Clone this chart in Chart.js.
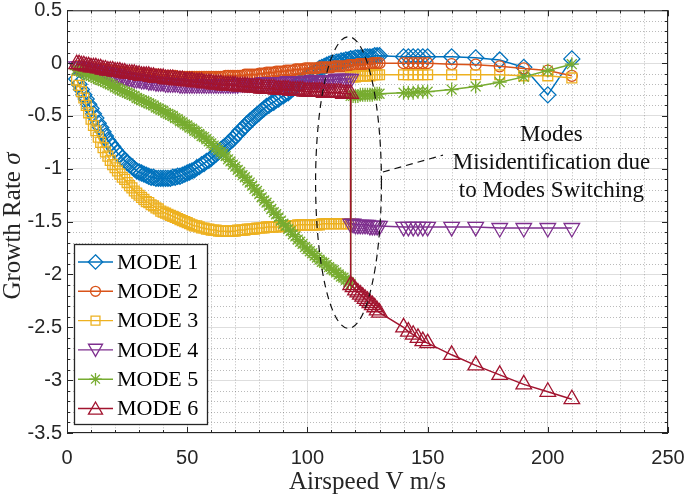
<!DOCTYPE html>
<html><head><meta charset="utf-8">
<style>html,body{margin:0;padding:0;background:#fff;} canvas{display:block;}</style>
<script src="https://cdn.jsdelivr.net/npm/chart.js@4.4.1/dist/chart.umd.min.js"></script>
</head><body>
<canvas id="c" width="685" height="498" style="width:685px;height:498px"></canvas>
<script>
// ---------------- data ----------------
const speed = [4,5,6,7,8,9,
  10,11,12,13,14,15,16,17,18,19,
  20,21,22,23,24,25,26,27,28,29,
  30,31,32,33,34,35,36,37,38,39,
  40,41,42,43,44,45,46,47,48,49,
  50,51,52,53,54,55,56,57,58,59,
  60,61,62,63,64,65,66,67,68,69,
  70,71,72,73,74,75,76,77,78,79,
  80,81,82,83,84,85,86,87,88,89,
  90,91,92,93,94,95,96,97,98,99,
  100,101,102,103,104,105,106,107,108,109,
  110,111,112,113,114,115,116,117,118,
  118,119,120,121,122,123,124,125,126,127,128,129,130,
  140,142,144,146,148,150,160,170,180,190,200,210];

const mode1 = [-0.15,-0.20,-0.25,-0.30,-0.34,-0.39,
  -0.43,-0.48,-0.52,-0.57,-0.61,-0.65,-0.69,-0.73,-0.76,-0.79,
  -0.82,-0.85,-0.87,-0.90,-0.92,-0.94,-0.96,-0.98,-1.00,-1.02,
  -1.03,-1.04,-1.05,-1.06,-1.07,-1.08,-1.08,-1.09,-1.09,-1.09,
  -1.09,-1.09,-1.09,-1.09,-1.08,-1.08,-1.07,-1.07,-1.06,-1.05,
  -1.04,-1.03,-1.02,-1.01,-0.99,-0.98,-0.96,-0.95,-0.93,-0.92,
  -0.90,-0.88,-0.86,-0.84,-0.82,-0.80,-0.78,-0.76,-0.74,-0.72,
  -0.69,-0.67,-0.64,-0.62,-0.60,-0.57,-0.55,-0.53,-0.51,-0.49,
  -0.47,-0.45,-0.43,-0.41,-0.40,-0.38,-0.37,-0.35,-0.34,-0.32,
  -0.31,-0.29,-0.28,-0.26,-0.24,-0.22,-0.20,-0.18,-0.16,-0.14,
  -0.13,-0.11,-0.10,-0.08,-0.07,-0.05,-0.04,-0.03,-0.02,-0.01,
  0.00,0.00,0.01,0.01,0.02,0.02,0.03,0.03,0.04,
  0.04,0.04,0.05,0.05,0.05,0.05,0.06,0.06,0.06,0.06,0.07,0.07,0.07,
  0.06,0.06,0.06,0.06,0.06,0.06,0.06,0.05,0.03,-0.04,-0.30,0.04];

const mode2 = [-0.03,-0.03,-0.04,-0.04,-0.04,-0.05,
  -0.05,-0.05,-0.05,-0.06,-0.06,-0.06,-0.06,-0.07,-0.07,-0.07,
  -0.07,-0.08,-0.08,-0.08,-0.08,-0.09,-0.09,-0.09,-0.09,-0.10,
  -0.10,-0.10,-0.10,-0.11,-0.11,-0.11,-0.11,-0.11,-0.11,-0.12,
  -0.12,-0.12,-0.12,-0.12,-0.12,-0.12,-0.13,-0.13,-0.13,-0.13,
  -0.13,-0.13,-0.13,-0.13,-0.13,-0.13,-0.13,-0.13,-0.13,-0.13,
  -0.13,-0.13,-0.13,-0.13,-0.13,-0.13,-0.12,-0.12,-0.12,-0.12,
  -0.12,-0.12,-0.12,-0.12,-0.11,-0.11,-0.11,-0.11,-0.11,-0.11,
  -0.10,-0.10,-0.10,-0.09,-0.09,-0.09,-0.09,-0.08,-0.08,-0.08,
  -0.08,-0.07,-0.07,-0.07,-0.07,-0.06,-0.06,-0.06,-0.06,-0.05,
  -0.05,-0.05,-0.05,-0.05,-0.05,-0.04,-0.04,-0.04,-0.04,-0.04,
  -0.04,-0.03,-0.03,-0.03,-0.03,-0.03,-0.03,-0.02,-0.02,
  -0.02,-0.02,-0.02,-0.01,-0.01,-0.01,-0.01,-0.01,-0.01,0.00,0.00,0.00,0.00,
  0.00,0.00,0.00,0.00,0.00,0.00,-0.01,-0.015,-0.03,-0.05,-0.07,-0.12];

const mode3 = [-0.16,-0.21,-0.27,-0.33,-0.40,-0.47,
  -0.53,-0.59,-0.64,-0.70,-0.75,-0.80,-0.84,-0.88,-0.92,-0.96,
  -0.99,-1.02,-1.05,-1.08,-1.10,-1.13,-1.16,-1.18,-1.21,-1.23,
  -1.25,-1.27,-1.29,-1.31,-1.32,-1.34,-1.35,-1.37,-1.38,-1.40,
  -1.41,-1.42,-1.43,-1.44,-1.45,-1.46,-1.47,-1.48,-1.49,-1.50,
  -1.51,-1.52,-1.53,-1.54,-1.54,-1.55,-1.56,-1.56,-1.57,-1.57,
  -1.58,-1.58,-1.58,-1.59,-1.59,-1.59,-1.59,-1.59,-1.59,-1.59,
  -1.59,-1.58,-1.58,-1.58,-1.58,-1.57,-1.57,-1.57,-1.57,-1.56,
  -1.56,-1.56,-1.56,-1.55,-1.55,-1.55,-1.55,-1.55,-1.55,-1.54,
  -1.54,-1.54,-1.54,-1.54,-1.54,-1.54,-1.53,-1.53,-1.53,-1.53,
  -1.53,-1.53,-1.53,-1.53,-1.53,-1.53,-1.52,-1.52,-1.52,-1.52,
  -1.52,-1.52,-1.52,-1.52,-1.52,-1.52,-1.52,-1.52,-1.52,
  -0.13,-0.13,-0.13,-0.12,-0.12,-0.12,-0.12,-0.12,-0.12,-0.11,-0.11,-0.11,-0.11,
  -0.11,-0.11,-0.11,-0.11,-0.11,-0.11,-0.11,-0.11,-0.11,-0.12,-0.12,-0.14];

const mode4 = [-0.03,-0.03,-0.04,-0.04,-0.05,-0.05,
  -0.06,-0.06,-0.07,-0.07,-0.08,-0.08,-0.09,-0.09,-0.10,-0.10,
  -0.11,-0.11,-0.12,-0.12,-0.13,-0.13,-0.14,-0.14,-0.15,-0.15,
  -0.15,-0.16,-0.16,-0.16,-0.17,-0.17,-0.17,-0.18,-0.18,-0.18,
  -0.18,-0.19,-0.19,-0.19,-0.19,-0.19,-0.19,-0.20,-0.20,-0.20,
  -0.20,-0.20,-0.20,-0.20,-0.20,-0.20,-0.20,-0.20,-0.20,-0.20,
  -0.20,-0.20,-0.20,-0.20,-0.20,-0.20,-0.20,-0.20,-0.20,-0.20,
  -0.20,-0.20,-0.19,-0.19,-0.19,-0.19,-0.19,-0.19,-0.19,-0.19,
  -0.19,-0.19,-0.18,-0.18,-0.18,-0.18,-0.18,-0.18,-0.18,-0.18,
  -0.18,-0.18,-0.17,-0.17,-0.17,-0.17,-0.17,-0.17,-0.17,-0.17,
  -0.17,-0.17,-0.16,-0.16,-0.16,-0.16,-0.16,-0.16,-0.16,-0.16,
  -0.16,-0.16,-0.15,-0.15,-0.15,-0.15,-0.15,-0.15,-0.15,
  -1.52,-1.52,-1.53,-1.53,-1.53,-1.53,-1.53,-1.53,-1.54,-1.54,-1.54,-1.54,-1.54,
  -1.55,-1.55,-1.55,-1.55,-1.55,-1.55,-1.55,-1.55,-1.56,-1.56,-1.56,-1.56];

const mode5 = [-0.06,-0.07,-0.08,-0.09,-0.10,-0.11,
  -0.12,-0.13,-0.14,-0.15,-0.16,-0.17,-0.18,-0.19,-0.20,-0.21,
  -0.23,-0.24,-0.25,-0.26,-0.27,-0.28,-0.29,-0.30,-0.31,-0.33,
  -0.34,-0.35,-0.36,-0.37,-0.38,-0.39,-0.40,-0.42,-0.43,-0.44,
  -0.45,-0.47,-0.48,-0.49,-0.50,-0.52,-0.53,-0.55,-0.56,-0.58,
  -0.59,-0.61,-0.62,-0.64,-0.65,-0.67,-0.69,-0.70,-0.72,-0.74,
  -0.76,-0.78,-0.80,-0.82,-0.84,-0.86,-0.88,-0.91,-0.93,-0.96,
  -0.98,-1.01,-1.03,-1.06,-1.08,-1.11,-1.13,-1.16,-1.19,-1.21,
  -1.24,-1.27,-1.30,-1.32,-1.35,-1.38,-1.41,-1.43,-1.46,-1.49,
  -1.52,-1.54,-1.57,-1.59,-1.62,-1.64,-1.67,-1.69,-1.71,-1.74,
  -1.76,-1.78,-1.80,-1.82,-1.84,-1.86,-1.88,-1.89,-1.91,-1.93,
  -1.95,-1.96,-1.98,-2.00,-2.02,-2.03,-2.05,-2.07,-2.09,
  -0.31,-0.31,-0.31,-0.31,-0.30,-0.30,-0.30,-0.30,-0.30,-0.30,-0.29,-0.29,-0.29,
  -0.28,-0.28,-0.28,-0.27,-0.27,-0.27,-0.25,-0.22,-0.18,-0.13,-0.07,-0.01];

const mode6 = [-0.01,-0.01,-0.02,-0.02,-0.03,-0.03,
  -0.04,-0.04,-0.04,-0.05,-0.05,-0.06,-0.06,-0.07,-0.07,-0.07,
  -0.08,-0.08,-0.08,-0.09,-0.09,-0.10,-0.10,-0.10,-0.10,-0.11,
  -0.11,-0.12,-0.12,-0.12,-0.12,-0.13,-0.13,-0.14,-0.14,-0.14,
  -0.14,-0.15,-0.15,-0.15,-0.15,-0.16,-0.16,-0.16,-0.16,-0.17,
  -0.17,-0.17,-0.17,-0.18,-0.18,-0.18,-0.18,-0.19,-0.19,-0.19,
  -0.19,-0.20,-0.20,-0.20,-0.20,-0.21,-0.21,-0.21,-0.21,-0.21,
  -0.21,-0.22,-0.22,-0.22,-0.22,-0.22,-0.23,-0.23,-0.23,-0.23,
  -0.23,-0.24,-0.24,-0.24,-0.24,-0.24,-0.24,-0.25,-0.25,-0.25,
  -0.25,-0.25,-0.25,-0.26,-0.26,-0.26,-0.26,-0.26,-0.26,-0.27,
  -0.27,-0.27,-0.27,-0.27,-0.27,-0.27,-0.27,-0.28,-0.28,-0.28,
  -0.28,-0.28,-0.28,-0.28,-0.28,-0.29,-0.29,-0.29,-0.29,
  -2.10,-2.12,-2.15,-2.17,-2.19,-2.21,-2.23,-2.25,-2.27,-2.29,-2.31,-2.34,-2.36,
  -2.50,-2.54,-2.57,-2.60,-2.63,-2.65,-2.76,-2.86,-2.95,-3.04,-3.11,-3.18];

const seriesNames = ['MODE 1','MODE 2','MODE 3','MODE 4','MODE 5','MODE 6'];
const xTickValues = [0,50,100,150,200,250];
const xTickLabels = ['0','50','100','150','200','250'];
const yTickValues = [-3.5,-3,-2.5,-2,-1.5,-1,-0.5,0,0.5];
const yTickLabels = ['-3.5','-3','-2.5','-2','-1.5','-1','-0.5','0','0.5'];
const xTitle = 'Airspeed V m/s';
const yTitle = 'Growth Rate ';
const yTitleSymbol = 'σ';
const noteLines = ['Modes','Misidentification due','to Modes Switching'];

// ---------------- styles ----------------
const seriesValues = [mode1, mode2, mode3, mode4, mode5, mode6];
const styles = [
  {color:'#0072BD', point:'rectRot', radius:8, rotation:0},
  {color:'#D95319', point:'circle', radius:5.5, rotation:0},
  {color:'#EDB120', point:'rect', radius:7, rotation:0},
  {color:'#7E2F8E', point:'triangle', radius:9, rotation:180},
  {color:'#77AC30', point:'star', radius:7, rotation:0},
  {color:'#A2142F', point:'triangle', radius:9, rotation:0}
];

const datasets = seriesValues.map((vals, i) => ({
  label: seriesNames[i],
  data: speed.map((s, j) => ({x: s, y: vals[j]})),
  borderColor: styles[i].color,
  backgroundColor: 'transparent',
  borderWidth: 1.5,
  pointStyle: styles[i].point,
  pointRadius: styles[i].radius,
  pointRotation: styles[i].rotation,
  pointBorderColor: styles[i].color,
  pointBackgroundColor: 'rgba(0,0,0,0)',
  pointBorderWidth: 1.3,
  tension: 0,
  order: 6 - i,
  showLine: true
}));

function drawMarker(ctx, st, x, y, r) {
  ctx.beginPath();
  if (st.point === 'circle') {
    ctx.arc(x, y, r, 0, Math.PI * 2);
  } else if (st.point === 'rect') {
    const s = Math.SQRT1_2 * r;
    ctx.rect(x - s, y - s, 2 * s, 2 * s);
  } else if (st.point === 'rectRot') {
    ctx.moveTo(x, y - r); ctx.lineTo(x + r, y); ctx.lineTo(x, y + r); ctx.lineTo(x - r, y); ctx.closePath();
  } else if (st.point === 'triangle') {
    const a = st.rotation * Math.PI / 180;
    const cy = y + (st.rotation ? -r * 0.2 : r * 0.2);
    for (let k = 0; k < 3; k++) {
      const ang = a + k * 2 * Math.PI / 3;
      const px = x + Math.sin(ang) * r, py = cy - Math.cos(ang) * r;
      if (k === 0) ctx.moveTo(px, py); else ctx.lineTo(px, py);
    }
    ctx.closePath();
  } else if (st.point === 'star') {
    for (let k = 0; k < 4; k++) {
      const ang = k * Math.PI / 4;
      ctx.moveTo(x + Math.cos(ang) * r, y + Math.sin(ang) * r);
      ctx.lineTo(x - Math.cos(ang) * r, y - Math.sin(ang) * r);
    }
  }
  ctx.stroke();
}

const overlay = {
  id: 'overlay',
  beforeDatasetsDraw(chart) {
    const {ctx, chartArea: a, scales: {x, y}} = chart;
    ctx.save();
    ctx.strokeStyle = 'rgba(40,40,40,0.32)';
    ctx.lineWidth = 1;
    ctx.setLineDash([1, 2]);
    for (let v = 10; v < 250; v += 10) {
      if (v % 50 === 0) continue;
      const px = Math.round(x.getPixelForValue(v)) + 0.5;
      ctx.beginPath(); ctx.moveTo(px, a.top); ctx.lineTo(px, a.bottom); ctx.stroke();
    }
    for (let k = 1; k < 40; k++) {
      if (k % 5 === 0) continue;
      const py = Math.round(y.getPixelForValue(-3.5 + k * 0.1)) + 0.5;
      ctx.beginPath(); ctx.moveTo(a.left, py); ctx.lineTo(a.right, py); ctx.stroke();
    }
    ctx.restore();
  },
  afterDraw(chart) {
    const {ctx, chartArea: a, scales: {x, y}} = chart;
    ctx.save();
    // axes box
    ctx.strokeStyle = '#262626';
    ctx.lineWidth = 1;
    ctx.setLineDash([]);
    ctx.strokeRect(a.left + 0.5, a.top + 0.5, a.right - a.left - 1, a.bottom - a.top - 1);
    // inward ticks
    ctx.beginPath();
    for (let v = 0; v <= 250; v += 10) {
      const px = Math.round(x.getPixelForValue(v)) + 0.5;
      const L = (v % 50 === 0) ? 6 : 3;
      ctx.moveTo(px, a.bottom); ctx.lineTo(px, a.bottom - L);
      ctx.moveTo(px, a.top); ctx.lineTo(px, a.top + L);
    }
    for (let k = 0; k <= 40; k++) {
      const py = Math.round(y.getPixelForValue(-3.5 + k * 0.1)) + 0.5;
      const L = (k % 5 === 0) ? 6 : 3;
      ctx.moveTo(a.left, py); ctx.lineTo(a.left + L, py);
      ctx.moveTo(a.right, py); ctx.lineTo(a.right - L, py);
    }
    ctx.stroke();

    // dashed ellipse and leader
    const cx = x.getPixelForValue(117.1), cy = y.getPixelForValue(-1.13);
    const rx = x.getPixelForValue(117.1 + 13.7) - cx;
    const ry = y.getPixelForValue(-1.13 - 1.38) - cy;
    ctx.strokeStyle = '#111';
    ctx.lineWidth = 1.2;
    ctx.setLineDash([7, 5]);
    ctx.beginPath(); ctx.ellipse(cx, cy, rx, ry, 0, 0, Math.PI * 2); ctx.stroke();
    ctx.beginPath();
    ctx.moveTo(x.getPixelForValue(131.4), y.getPixelForValue(-1.03));
    ctx.lineTo(x.getPixelForValue(156.4), y.getPixelForValue(-0.87));
    ctx.stroke();
    ctx.setLineDash([]);

    // annotation text
    ctx.fillStyle = '#111';
    ctx.font = '23px "Liberation Serif", "Times New Roman", serif';
    ctx.textAlign = 'center';
    ctx.textBaseline = 'alphabetic';
    const nx = x.getPixelForValue(201.5);
    const ny = [-0.735, -0.999, -1.263];
    noteLines.forEach((t, i) => ctx.fillText(t, nx, y.getPixelForValue(ny[i])));

    // legend
    const bx = a.left + 7, by = a.bottom - 189, bw = 133, bh = 180;
    ctx.fillStyle = '#fff';
    ctx.fillRect(bx, by, bw, bh);
    ctx.strokeStyle = '#262626';
    ctx.lineWidth = 1.3;
    ctx.strokeRect(bx + 0.5, by + 0.5, bw, bh);
    ctx.font = '22px "Liberation Serif", "Times New Roman", serif';
    ctx.textAlign = 'left';
    ctx.textBaseline = 'middle';
    seriesNames.forEach((name, i) => {
      const ry0 = by + 18 + i * 29.3;
      const st = styles[i];
      ctx.strokeStyle = st.color;
      ctx.lineWidth = 1.4;
      ctx.beginPath(); ctx.moveTo(bx + 4, ry0); ctx.lineTo(bx + 39, ry0); ctx.stroke();
      ctx.lineWidth = 1.3;
      drawMarker(ctx, st, bx + 21.5, ry0, st.radius * 0.9);
      ctx.fillStyle = '#000';
      ctx.fillText(name, bx + 43, ry0 + 1);
    });

    // y title
    ctx.save();
    ctx.translate(13, 226);
    ctx.rotate(-Math.PI / 2);
    ctx.fillStyle = '#262626';
    ctx.textBaseline = 'middle';
    ctx.textAlign = 'left';
    const f1 = '25px "Liberation Serif", "Times New Roman", serif';
    const f2 = 'italic 25px "Liberation Serif", "Times New Roman", serif';
    ctx.font = f1; const w1 = ctx.measureText(yTitle).width;
    ctx.font = f2; const w2 = ctx.measureText(yTitleSymbol).width;
    const start = -(w1 + w2) / 2;
    ctx.font = f1; ctx.fillText(yTitle, start, 0);
    ctx.font = f2; ctx.fillText(yTitleSymbol, start + w1, 0);
    ctx.restore();

    ctx.restore();
  }
};

new Chart(document.getElementById('c'), {
  type: 'line',
  data: { datasets },
  options: {
    responsive: false,
    animation: false,
    devicePixelRatio: 1,
    layout: { padding: { left: 0, right: 17, top: 8, bottom: 0 } },
    plugins: { legend: { display: false }, tooltip: { enabled: false } },
    scales: {
      x: {
        type: 'linear', min: 0, max: 250,
        afterBuildTicks: s => { s.ticks = xTickValues.map(v => ({value: v})); },
        ticks: {
          callback: (v, i) => xTickLabels[i],
          font: { family: '"Liberation Sans", Arial, sans-serif', size: 20 },
          color: '#262626', padding: 13, maxRotation: 0, autoSkip: false
        },
        grid: { color: '#dedede', lineWidth: 1, drawTicks: false },
        border: { display: false },
        title: {
          display: true, text: xTitle, color: '#262626',
          font: { family: '"Liberation Serif", "Times New Roman", serif', size: 25 },
          padding: { top: 0, bottom: 1 }
        },
        afterFit: s => { s.height = 65; s.paddingLeft = 0; s.paddingRight = 0; }
      },
      y: {
        type: 'linear', min: -3.5, max: 0.5,
        afterBuildTicks: s => { s.ticks = yTickValues.map(v => ({value: v})); },
        ticks: {
          callback: (v, i) => yTickLabels[i],
          font: { family: '"Liberation Sans", Arial, sans-serif', size: 20 },
          color: '#262626', padding: 5, autoSkip: false
        },
        grid: { color: '#dedede', lineWidth: 1, drawTicks: false },
        border: { display: false },
        afterFit: s => { s.width = 67; s.paddingTop = 0; s.paddingBottom = 0; }
      }
    }
  },
  plugins: [overlay]
});
</script>
</body></html>
